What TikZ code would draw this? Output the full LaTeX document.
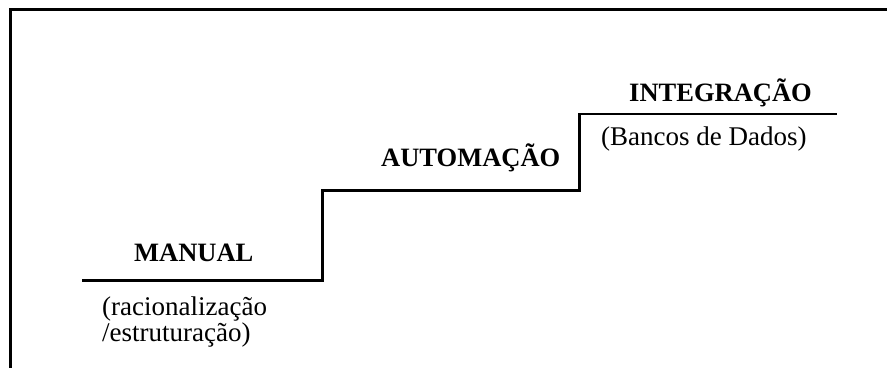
\documentclass[tikz,border=0pt]{standalone}
\usepackage{fontspec}
\setmainfont{Liberation Serif}
\begin{document}
\begin{tikzpicture}[x=1bp,y=-1bp,
  frameline/.style={line width=3bp, line cap=rect},
  stairline/.style={line width=2.6bp, line join=miter},
  stagetitle/.style={anchor=base west, inner sep=0pt, font=\fontsize{26.5bp}{28bp}\selectfont\bfseries},
  stagenote/.style={anchor=base west, inner sep=0pt, font=\fontsize{27bp}{28bp}\selectfont}]
  \useasboundingbox (0,0) rectangle (887,367);

  % open frame: top and left edges only
  \coordinate (frameTop) at (890,9.5);
  \coordinate (frameCorner) at (10.5,9.5);
  \coordinate (frameBottom) at (10.5,370);
  \draw[frameline] (frameTop) -- (frameCorner) -- (frameBottom);

  % staircase
  \coordinate (s0) at (82,280.5);
  \coordinate (s1) at (322.5,280.5);
  \coordinate (s2) at (322.5,190.5);
  \coordinate (s3) at (579.5,190.5);
  \coordinate (s4) at (579.5,114);
  \coordinate (s5) at (837,114);
  \draw[stairline] (s0) -- (s1) -- (s2) -- (s3) -- (s4) -- (s5);

  % stage labels
  \node[stagetitle] (manual) at (134,261) {MANUAL};
  \node[stagenote]  (manualnoteA) at (102,315.5) {(racionalização};
  \node[stagenote]  (manualnoteB) at (102,341) {/estruturação)};
  \node[stagetitle] (automacao) at (381,166) {AUTOMAÇÃO};
  \node[stagetitle] (integracao) at (629,101.5) {INTEGRAÇÃO};
  \node[stagenote]  (integracaonote) at (601,145) {(Bancos de Dados)};
\end{tikzpicture}
\end{document}
